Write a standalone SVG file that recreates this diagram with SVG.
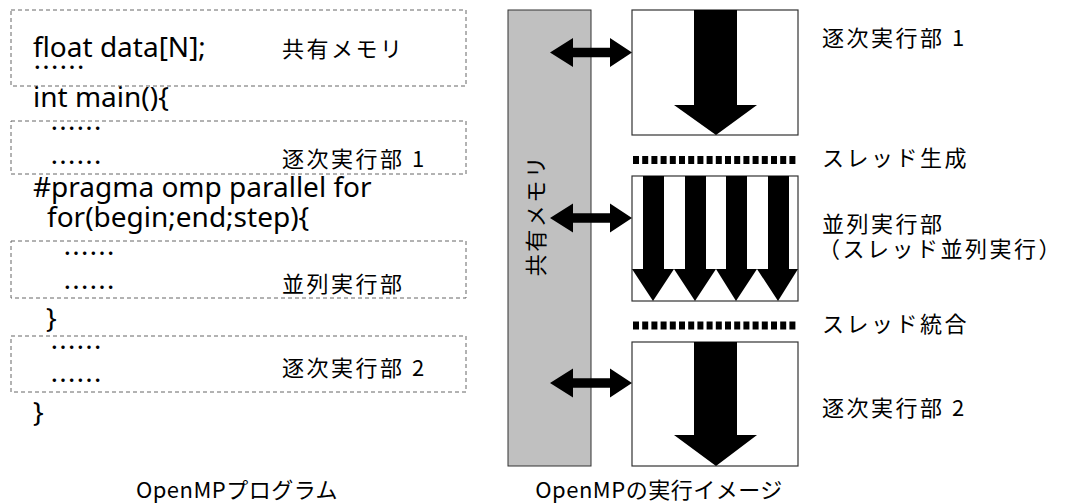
<svg xmlns="http://www.w3.org/2000/svg" xmlns:xlink="http://www.w3.org/1999/xlink" width="1071" height="504" viewBox="0 0 1071 504">
<style>
.code{font-family:"Noto Sans","Noto Sans CJK JP",sans-serif;font-size:28px;fill:#000}
.dots{font-family:"Noto Sans CJK JP",sans-serif;font-size:26px;fill:#000}
.jp{font-family:"Noto Sans CJK JP",sans-serif;font-size:22px;fill:#000;letter-spacing:2.5px}
.cap{font-family:"Noto Sans CJK JP",sans-serif;font-size:22px;fill:#000;letter-spacing:0.5px}
.dbox{fill:none;stroke:#666;stroke-width:1;stroke-dasharray:4 3}
.box{fill:#fff;stroke:#333;stroke-width:1.2}
.sep{stroke:#000;stroke-width:8;stroke-dasharray:6 3.2}
</style>
<defs>
<polygon id="dbl" points="550,0 573,-14.5 573,-4.8 610,-4.8 610,-14.5 632,0 610,14.5 610,4.8 573,4.8 573,14.5" fill="#000"/>
</defs>
<g id="program">
<rect class="dbox" x="11" y="10" width="455" height="76"/>
<rect class="dbox" x="11" y="121" width="455" height="53"/>
<rect class="dbox" x="11" y="241" width="455" height="57"/>
<rect class="dbox" x="11" y="336" width="455" height="56"/>
<text class="code" x="33" y="57">float data[N];</text>
<text class="dots" x="33" y="77">……</text>
<text class="jp" x="282" y="57">共有メモリ</text>
<text class="code" x="33" y="107">int main(){</text>
<text class="dots" x="50" y="138">……</text>
<text class="dots" x="50" y="172">……</text>
<text class="jp" x="282" y="167">逐次実行部 1</text>
<text class="code" x="33" y="197">#pragma omp parallel for</text>
<text class="code" x="47" y="227">for(begin;end;step){</text>
<text class="dots" x="63" y="263">……</text>
<text class="dots" x="63" y="297">……</text>
<text class="jp" x="282" y="292">並列実行部</text>
<text class="code" x="46" y="328">}</text>
<text class="dots" x="50" y="357">……</text>
<text class="dots" x="50" y="390">……</text>
<text class="jp" x="282" y="376">逐次実行部 2</text>
<text class="code" x="33" y="422">}</text>
<text class="cap" x="237" y="498" text-anchor="middle">OpenMPプログラム</text>
</g>
<g id="shared-memory">
<rect x="508" y="10" width="83" height="456" fill="#c0c0c0" stroke="#333" stroke-width="1"/>
<text class="jp" transform="translate(544,215) rotate(-90)" text-anchor="middle">共有メモリ</text>
</g>
<g id="seq1">
<rect class="box" x="632" y="10" width="166" height="125"/>
<polygon points="694,10 737,10 737,105 757,105 716,135 674,105 694,105" fill="#000"/>
<text class="jp" x="822" y="46">逐次実行部 1</text>
</g>
<g id="fork">
<line class="sep" x1="633" y1="160" x2="798" y2="160"/>
<text class="jp" x="822" y="166">スレッド生成</text>
</g>
<g id="parallel">
<rect class="box" x="632" y="176" width="166" height="125"/>
<polygon points="643,176 664,176 664,269 674,269 653,301 632,269 643,269" fill="#000"/>
<polygon points="685,176 706,176 706,269 716,269 695,301 674,269 685,269" fill="#000"/>
<polygon points="726,176 747,176 747,269 757,269 736,301 716,269 726,269" fill="#000"/>
<polygon points="768,176 789,176 789,269 798,269 778,301 757,269 768,269" fill="#000"/>
<text class="jp" x="822" y="232">並列実行部</text>
<text class="jp" x="818" y="257">（スレッド並列実行）</text>
</g>
<g id="join">
<line class="sep" x1="633" y1="325.5" x2="798" y2="325.5"/>
<text class="jp" x="822" y="332">スレッド統合</text>
</g>
<g id="seq2">
<rect class="box" x="632" y="342" width="166" height="124"/>
<polygon points="694,342 737,342 737,435 757,435 716,466 674,435 694,435" fill="#000"/>
<text class="jp" x="822" y="416">逐次実行部 2</text>
</g>
<g id="connectors">
<use xlink:href="#dbl" transform="translate(0,52.5)"/>
<use xlink:href="#dbl" transform="translate(0,218)"/>
<use xlink:href="#dbl" transform="translate(0,383)"/>
</g>
<text class="cap" x="659" y="498" text-anchor="middle">OpenMPの実行イメージ</text>
</svg>
